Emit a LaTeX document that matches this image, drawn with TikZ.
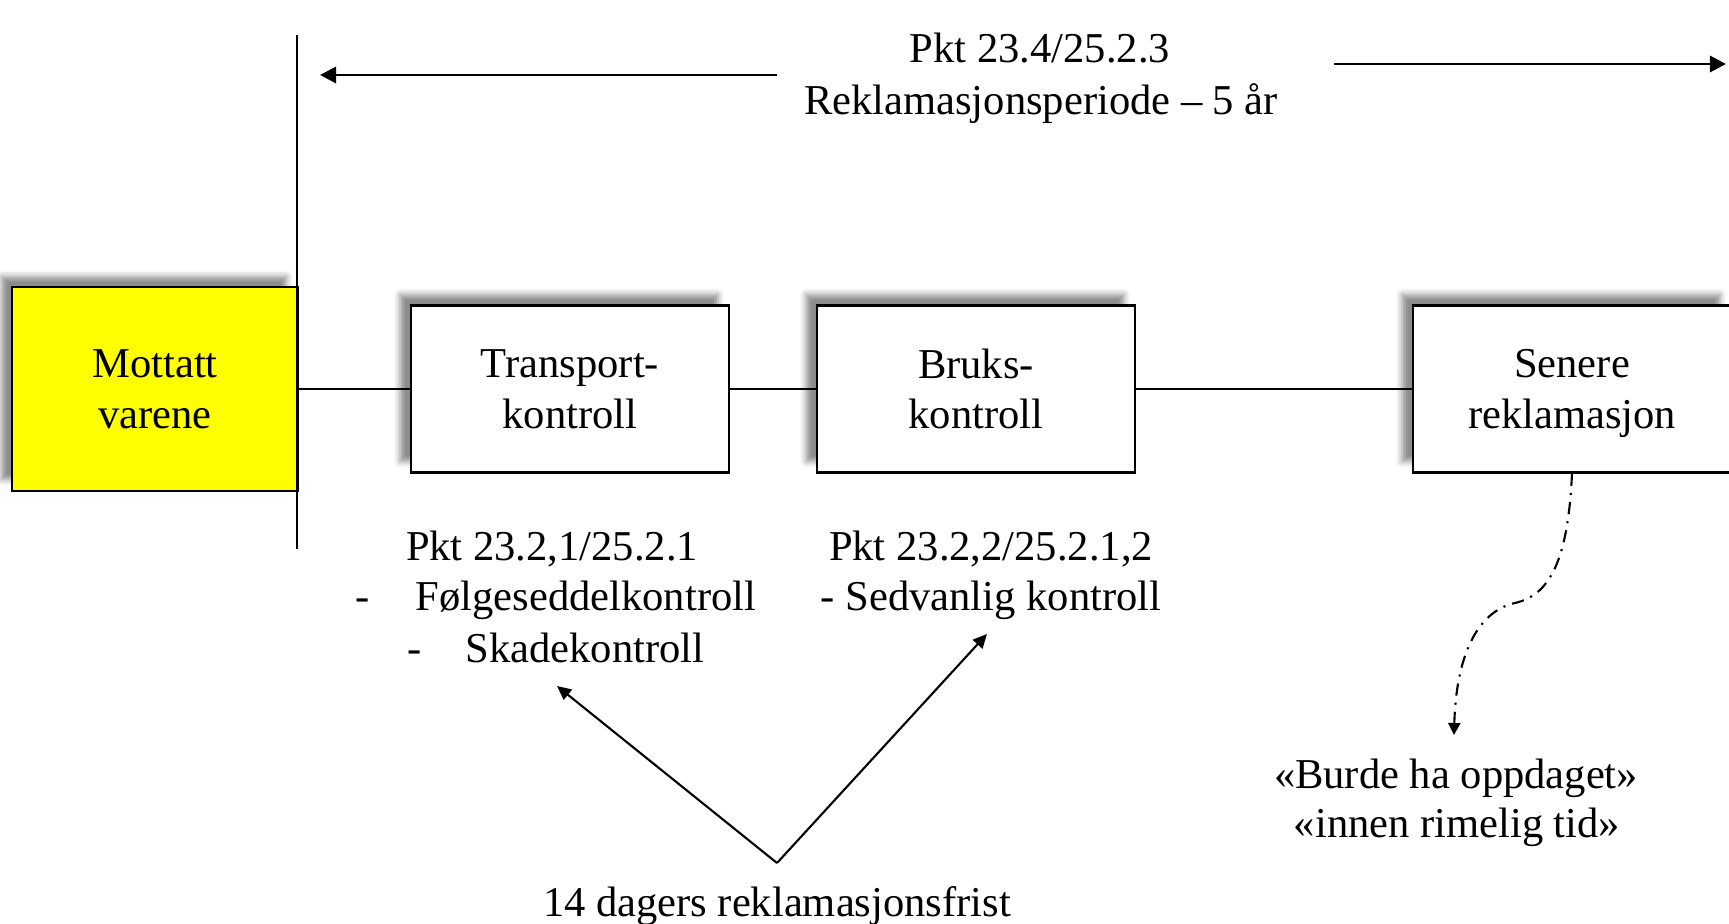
\documentclass[tikz,border=0pt]{standalone}
\usepackage{fontspec}
\setmainfont{Liberation Serif}
\usetikzlibrary{arrows.meta,shadows.blur}

\definecolor{boxyellow}{RGB}{255,255,0}

\tikzset{
  box/.style={draw, line width=0.6pt, fill=white, minimum width=3.18cm,
    minimum height=1.67cm, align=center, inner sep=0pt,
    blur shadow={shadow xshift=-0.11cm, shadow yshift=0.11cm,
      shadow blur radius=0.06cm, shadow opacity=45}},
  lbl/.style={inner sep=0pt, anchor=base},
  pointer/.style={line width=0.6pt, -{Triangle[length=0.14cm, width=0.13cm]}},
  period/.style={line width=0.85pt, -{Triangle[length=0.16cm, width=0.16cm]}},
  dashdotline/.style={line width=0.6pt, dash pattern=on 3.5pt off 2pt on 0.6pt off 2pt,
    -{Triangle[length=0.12cm, width=0.12cm]}},
}

\begin{document}
\begin{tikzpicture}[x=0.01cm, y=-0.01cm, font=\fontsize{12.1pt}{14.4pt}\selectfont]
  \useasboundingbox (0,0) rectangle (1729,924);

  % boxes
  \node[box, fill=boxyellow, minimum width=2.85cm, minimum height=2.03cm] (mottatt) at (155,389) {Mottatt\\varene};
  \node[box] (transport) at (570,389) {Transport-\\kontroll};
  \node[box] (bruk) at (976,389) {Bruks-\\kontroll};
  \node[box] (senere) at (1572,389) {Senere\\\raisebox{0pt}[\height][0pt]{reklamasjon}};
  \draw[line width=0.6pt] (mottatt.east) -- (transport.west);
  \draw[line width=0.6pt] (transport.east) -- (bruk.west);
  \draw[line width=0.6pt] (bruk.east) -- (senere.west);

  % reklamasjonsperiode
  \coordinate (start top) at (297,35);
  \coordinate (start bottom) at (297,549);
  \draw[line width=0.6pt] (start top) -- (start bottom);
  \coordinate (perL) at (777,75);
  \coordinate (perLend) at (320,75);
  \coordinate (perR) at (1334,64);
  \coordinate (perRend) at (1726,64);
  \draw[period] (perL) -- (perLend);
  \draw[period] (perR) -- (perRend);
  \node[lbl] (periode1) at (1040,62) {Pkt 23.4/25.2.3};
  \node[lbl] (periode2) at (1041,114) {Reklamasjonsperiode – 5 år};

  % kontroller
  \node[lbl] (pkt1) at (552,560) {Pkt 23.2,1/25.2.1};
  \node[lbl, anchor=base west] (dash1) at (355,610) {-};
  \node[lbl, anchor=base west] (item1) at (415,610) {Følgeseddelkontroll};
  \node[lbl, anchor=base west] (dash2) at (407,662) {-};
  \node[lbl, anchor=base west] (item2) at (465,662) {Skadekontroll};
  \node[lbl] (pkt2) at (991,560) {Pkt 23.2,2/25.2.1,2};
  \node[lbl] (item3) at (991,610) {- Sedvanlig kontroll};

  % frist
  \node[lbl] (frist) at (777,916) {14 dagers reklamasjonsfrist};
  \coordinate (apex) at (777,863);
  \coordinate (tipA) at (557,686);
  \coordinate (tipB) at (987,634);
  \draw[pointer] (apex) -- (tipA);
  \draw[pointer] (apex) -- (tipB);

  % senere reklamasjon
  \coordinate (burdetip) at (1454,735);
  \draw[dashdotline] (senere.south) .. controls (1568,560) and (1550,595) .. (1515,603)
    .. controls (1475,612) and (1456,660) .. (burdetip);
  \node[lbl] (burde1) at (1456,788) {«Burde ha oppdaget»};
  \node[lbl] (burde2) at (1457,837) {«innen rimelig tid»};
\end{tikzpicture}
\end{document}
